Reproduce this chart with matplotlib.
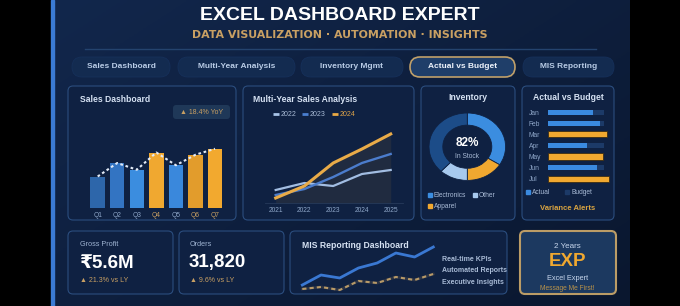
import matplotlib
matplotlib.use('Agg')
import matplotlib.pyplot as plt
from matplotlib.patches import FancyBboxPatch, Rectangle
import numpy as np

plt.rcParams['font.family'] = ['Liberation Sans', 'DejaVu Sans']

# ---------------- data ----------------
title = "EXCEL DASHBOARD EXPERT"
subtitle = "DATA VISUALIZATION · AUTOMATION · INSIGHTS"
tabs = ["Sales Dashboard", "Multi-Year Analysis", "Inventory Mgmt", "Actual vs Budget", "MIS Reporting"]
active_tab = "Actual vs Budget"

quarters = ["Q1", "Q2", "Q3", "Q4", "Q5", "Q6", "Q7"]
sales = [42, 60, 51, 74, 57, 71, 79]
yoy_badge = "▲ 18.4% YoY"

years = [2021, 2022, 2023, 2024, 2025]
sales_2022 = [13, 20, 17, 29, 33]
sales_2023 = [8, 14, 26, 40, 49]
sales_2024 = [5, 17, 40, 54, 69]

inv_labels = ["Electronics", "Apparel", "Other", "Remaining"]
inv_values = [34, 16, 12, 38]
in_stock = "82%"

months = ["Jan", "Feb", "Mar", "Apr", "May", "Jun", "Jul"]
actual = [81, 93, 105, 69, 99, 88, 109]
budget = [100, 100, 100, 100, 100, 100, 100]

kpi_names = ["Gross Profit", "Orders"]
kpi_values = ["₹5.6M", "31,820"]
kpi_changes = ["▲ 21.3% vs LY", "▲ 9.6% vs LY"]

mis_primary = [10, 20, 17, 27, 32, 42, 38, 48]
mis_secondary = [6, 8, 5, 14, 12, 18, 15, 21]
mis_items = ["Real-time KPIs", "Automated Reports", "Executive Insights"]

# ---------------- styles ----------------
W, H = 680, 306
PANEL = '#0f2142'
EDGE = '#2b4d7e'
TITLE_C = '#d6e2f3'
SUB_C = '#9fb4d2'
GOLD = '#c9a063'
ORANGE = '#f0a830'
BLUE = '#3a8ae0'

fig = plt.figure(figsize=(6.8, 3.06), dpi=100, facecolor='black')
bg = fig.add_axes([0, 0, 1, 1])
bg.axis('off')

# background gradient
X, Y = np.meshgrid(np.linspace(0, 1, 200), np.linspace(0, 1, 100))
t = 0.55 * X + 0.45 * Y
c0 = np.array([0x12, 0x27, 0x4c]) / 255
c1 = np.array([0x0a, 0x17, 0x2f]) / 255
img = c0 * (1 - t[..., None]) + c1 * t[..., None]
bg.imshow(img, extent=(54, 630, 306, 0), aspect='auto', zorder=0)
bg.set_xlim(0, W)
bg.set_ylim(H, 0)
bg.add_patch(Rectangle((51, 0), 3, 306, color='#3b7bd4', zorder=1))


def rbox(x0, y0, x1, y1, fc=PANEL, ec=EDGE, lw=0.8, r=5, z=2):
    bg.add_patch(FancyBboxPatch((x0 + r, y0 + r), x1 - x0 - 2 * r, y1 - y0 - 2 * r,
                                boxstyle=f'round,pad={r}', fc=fc, ec=ec, lw=lw, zorder=z))


def txt(x, y, s, size=6, color=TITLE_C, weight='normal', ha='left', **kw):
    bg.text(x, y, s, fontsize=size, color=color, fontweight=weight, ha=ha, va='center', zorder=5, **kw)


def px_axes(x0, y0, x1, y1):
    a = fig.add_axes([x0 / W, 1 - y1 / H, (x1 - x0) / W, (y1 - y0) / H])
    a.set_facecolor('none')
    for s in a.spines.values():
        s.set_visible(False)
    return a


# ---------------- header ----------------
txt(340, 15, title, size=14, color='white', weight='bold', ha='center')
txt(340, 35, subtitle, size=7.9, color=GOLD, weight='bold', ha='center', family=['DejaVu Sans'])
bg.plot([85, 596], [49, 49], color='#24436e', lw=1, zorder=2)

tab_x = [(72, 170), (178, 295), (301, 403), (410, 515), (523, 614)]
for (x0, x1), name in zip(tab_x, tabs):
    if name == active_tab:
        rbox(x0, 57, x1, 77, fc='#1f3e69', ec='#c0a06a', lw=1.2, r=10)
        txt((x0 + x1) / 2, 67, name, size=6, color='#eef3fb', weight='bold', ha='center')
    else:
        rbox(x0, 57, x1, 77, fc='#132b50', ec='#16305a', lw=0.6, r=10)
        txt((x0 + x1) / 2, 67, name, size=6, color='#b9cce6', weight='bold', ha='center')

# ---------------- panels ----------------
rbox(68, 86, 236, 220)
rbox(243, 86, 414, 220)
rbox(421, 86, 515, 220)
rbox(522, 86, 614, 220)
rbox(68, 231, 173, 294)
rbox(179, 231, 284, 294)
rbox(290, 231, 507, 294)
rbox(520, 231, 616, 294, fc='#1c3960', ec='#bb9c66', lw=1.5)

# ---------------- sales dashboard ----------------
txt(80, 99, "Sales Dashboard", size=6.2, weight='bold')
rbox(173, 105, 230, 119, fc='#1f3858', ec='none', lw=0, r=3)
txt(201.5, 112, yoy_badge, size=5, color=GOLD, ha='center')

ax1 = px_axes(87.9, 140.5, 224.8, 208)
bar_colors = ['#2d66aa', '#3374c2', '#3b8ddf', ORANGE, '#3a88dc', '#e29c2c', '#f2a92f']
xs = np.arange(len(quarters))
ax1.bar(xs, sales, width=0.74, color=bar_colors, zorder=2)
ax1.plot(xs, sales, color='#e2eaf6', lw=1.5, ls=(0, (1.3, 1.3)), zorder=3, clip_on=False)
ax1.set_xlim(-0.5, 6.5)
ax1.set_ylim(0, 90)
ax1.set_yticks([])
ax1.set_xticks(xs)
ax1.set_xticklabels(quarters, fontsize=4.8)
ax1.tick_params(axis='x', length=0, pad=3)
for lbl, q, v in zip(ax1.get_xticklabels(), quarters, sales):
    lbl.set_color('#c9a063' if q in ("Q4", "Q6", "Q7") else '#8ea6c8')

# ---------------- multi-year ----------------
txt(253, 99, "Multi-Year Sales Analysis", size=6.2, weight='bold')
leg = [(273, "2022", '#a7c3e8', '#a9bbd6'), (302, "2023", '#4a7fd0', '#a9bbd6'), (332, "2024", '#e9a944', '#e0a54a')]
for lx, lab, c, tc in leg:
    bg.plot([lx, lx + 6], [114, 114], color=c, lw=2, zorder=5, solid_capstyle='butt')
    txt(lx + 8, 114, lab, size=5, color=tc)

ax2 = px_axes(265, 125, 403, 203)
ax2.fill_between(years, sales_2024, 0, color='#232d40', alpha=0.9, zorder=1, lw=0)
ax2.plot(years, sales_2022, color='#a2bde2', lw=1.6, zorder=3)
ax2.plot(years, sales_2023, color='#4b7ccc', lw=1.7, zorder=3)
ax2.plot(years, sales_2024, color='#e9ab48', lw=2.2, zorder=4)
ax2.set_xlim(2020.628, 2025.428)
ax2.set_ylim(0, 78)
ax2.set_yticks([])
ax2.set_xticks(years)
ax2.set_xticklabels([str(y) for y in years], fontsize=4.8, color='#8ea6c8')
ax2.tick_params(axis='x', length=0, pad=3)
ax2.spines['bottom'].set_visible(True)
ax2.spines['bottom'].set_color('#263a5a')
ax2.spines['bottom'].set_linewidth(0.6)

# ---------------- inventory ----------------
txt(468, 98, "Inventory", size=6.2, weight='bold', ha='center')
ax3 = px_axes(429, 113, 505.6, 180.4)
ax3.pie(inv_values, colors=['#3b8de0', ORANGE, '#a7c9ee', '#1c4c88'], startangle=90,
        counterclock=False, radius=1,
        wedgeprops=dict(width=0.36, edgecolor=PANEL, linewidth=0.6))
ax3.set_aspect('auto')
ax3.set_xlim(-1, 1)
ax3.set_ylim(-1, 1)
txt(467.3, 143.5, in_stock, size=8.5, color='white', weight='bold', ha='center')
txt(467.3, 157, "In Stock", size=4.8, color='#a9bbd6', ha='center')
for (lx, ly), lab, c in zip([(430, 195.3), (475, 195.3), (430, 206.3)],
                            ["Electronics", "Other", "Apparel"],
                            ['#3b8de0', '#a7c9ee', ORANGE]):
    bg.add_patch(Rectangle((lx - 2, ly - 2), 4, 4, color=c, zorder=5))
    txt(lx + 4, ly, lab, size=4.8, color='#a9bbd6')

# ---------------- actual vs budget ----------------
txt(568, 97, "Actual vs Budget", size=6.2, weight='bold', ha='center')
ax4 = px_axes(548.3, 106.45, 612.4, 184.25)
ys = np.arange(len(months))
ax4.barh(ys, budget, height=0.45, color='#1c3a68', zorder=1)
act_colors = [ORANGE if a > b else BLUE for a, b in zip(actual, budget)]
act_colors[months.index("May")] = ORANGE
for y, a, c in zip(ys, actual, act_colors):
    if c == ORANGE:
        ax4.barh(y, a, height=0.55, color=c, edgecolor='#3a2c14', lw=0.6, zorder=2)
    else:
        ax4.barh(y, a, height=0.45, color=c, zorder=2)
ax4.set_xlim(0, 115)
ax4.set_ylim(6.5, -0.5)
ax4.set_xticks([])
ax4.set_yticks(ys)
ax4.set_yticklabels(months, fontsize=4.8, color='#8ea6c8', ha='left')
ax4.tick_params(axis='y', length=0, pad=13.9)
bg.add_patch(Rectangle((526, 190), 4, 4, color=BLUE, zorder=5))
txt(532, 192, "Actual", size=4.8, color='#a9bbd6')
bg.add_patch(Rectangle((565, 190), 4, 4, color='#1c3a68', zorder=5))
txt(571, 192, "Budget", size=4.8, color='#a9bbd6')
txt(568, 208.7, "Variance Alerts", size=5.5, color='#d9a441', weight='bold', ha='center')

# ---------------- KPI cards ----------------
for x0, name, val, chg in zip([80, 190], kpi_names, kpi_values, kpi_changes):
    txt(x0, 245, name, size=5.2, color=SUB_C)
    txt(x0 - 1, 263, val, size=13.5, color='white', weight='bold')
    txt(x0, 281, chg, size=5, color=GOLD)

# ---------------- MIS reporting ----------------
txt(302, 245.7, "MIS Reporting Dashboard", size=6.2, weight='bold')
ax5 = px_axes(302.3, 240, 433.3, 295)
xm = np.arange(len(mis_primary))
ax5.plot(xm, mis_primary, color='#3a78d2', lw=2, clip_on=False, zorder=3)
ax5.plot(xm, mis_secondary, color='#2c3446', lw=2, clip_on=False, zorder=2)
ax5.plot(xm, mis_secondary, color='#b89a68', lw=1.5, ls=(0, (2, 1.5)), clip_on=False, zorder=3)
ax5.set_xlim(0, 7)
ax5.set_ylim(0, 55)
ax5.set_xticks([])
ax5.set_yticks([])
for yy, item in zip([259.3, 270.7, 282.3], mis_items):
    txt(441.7, yy, item, size=5, color='#a9bbd6', weight='bold')

# ---------------- EXP card ----------------
txt(567.3, 246.7, "2 Years", size=5.8, color='#c9d8ee', ha='center')
txt(567.3, 261, "EXP", size=13.5, color=ORANGE, weight='bold', ha='center')
txt(567.3, 278.3, "Excel Expert", size=5.3, color='#c9d8ee', ha='center')
txt(567.3, 288.5, "Message Me First!", size=4.8, color='#b8924a', ha='center')

fig.savefig('out.png', dpi=100, facecolor='black')
